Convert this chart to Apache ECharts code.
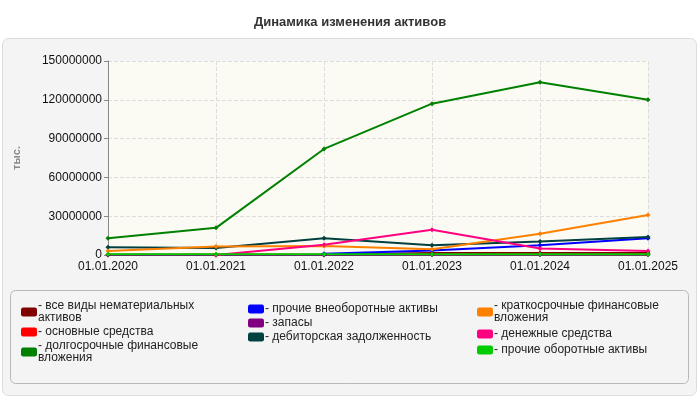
<!DOCTYPE html>
<html lang="ru">
<head>
<meta charset="UTF-8">
<title>Динамика изменения активов</title>
<style>
  * { margin: 0; padding: 0; }
  html, body { width: 100%; height: 100%; background: #fff; }
  #main { width: 700px; height: 400px; }
</style>
</head>
<body>
<div id="main"></div>
<script src="https://cdn.jsdelivr.net/npm/echarts@6/dist/echarts.min.js"></script>
<script>
var dates = ['01.01.2020', '01.01.2021', '01.01.2022', '01.01.2023', '01.01.2024', '01.01.2025'];

var intangible   = [200000, 200000, 300000, 1500000, 1500000, 1500000];
var fixedAssets  = [100000, 100000, 200000, 500000, 500000, 600000];
var longFin      = [13000000, 21000000, 82000000, 117000000, 133500000, 120000000];
var otherNonCur  = [null, null, 1000000, 3500000, 7500000, 13000000];
var stocks       = [0, 0, 0, 100000, 100000, 100000];
var receivables  = [6000000, 5500000, 13000000, 7500000, 10500000, 14000000];
var shortFin     = [3000000, 6500000, 7000000, 4500000, 16500000, 31000000];
var cash         = [null, 0, 8000000, 19500000, 5000000, 3000000];
var otherCur     = [500000, 500000, 500000, 500000, 500000, 500000];

var names = {
    intangible: 'все виды нематериальных\nактивов',
    fixedAssets: 'основные средства',
    longFin: 'долгосрочные финансовые\nвложения',
    otherNonCur: 'прочие внеоборотные активы',
    stocks: 'запасы',
    receivables: 'дебиторская задолженность',
    shortFin: 'краткосрочные финансовые\nвложения',
    cash: 'денежные средства',
    otherCur: 'прочие оборотные активы'
};

function line(name, data, color) {
    return {
        name: name, type: 'line', data: data, color: color,
        symbol: 'diamond', symbolSize: 5, connectNulls: false,
        lineStyle: { width: 2, color: color },
        itemStyle: { color: color }
    };
}

function legend(left, top, gap, data) {
    return {
        orient: 'vertical', left: left, top: top, itemGap: gap,
        itemWidth: 16, itemHeight: 9, icon: 'roundRect',
        formatter: function (n) { return '- ' + n; },
        textStyle: { fontSize: 12, color: '#222', fontFamily: 'Liberation Sans', lineHeight: 12, padding: [0, 0, 0, -4] },
        data: data, selectedMode: false
    };
}

var myChart = echarts.init(document.getElementById('main'));
var option = {
    animation: false,
    title: {
        text: 'Динамика изменения активов', left: 'center', top: 11,
        textStyle: { fontSize: 13, fontWeight: 'bold', color: '#333', fontFamily: 'Liberation Sans' }
    },
    graphic: [
        { type: 'rect', left: 2, top: 38, z: -10, shape: { width: 694, height: 357, r: 6 },
          style: { fill: '#f4f4f4', stroke: '#dcdcdc' } },
        { type: 'rect', left: 10, top: 290, z: -9, shape: { width: 678, height: 93, r: 5 },
          style: { fill: '#f4f4f4', stroke: '#b8b8b8' } }
    ],
    grid: { left: 108, right: 52, top: 61, bottom: 145, show: true, backgroundColor: '#fbfbf3', borderWidth: 0 },
    xAxis: {
        type: 'category', data: dates, boundaryGap: false,
        axisLine: { lineStyle: { color: '#888' } },
        axisTick: { show: false },
        axisLabel: { color: '#111', fontSize: 12, fontFamily: 'Liberation Sans', margin: 6 },
        splitLine: { show: true, lineStyle: { type: 'dashed', color: '#ddd' } }
    },
    yAxis: {
        type: 'value', min: 0, max: 150000000, interval: 30000000,
        name: 'тыс.', nameLocation: 'middle', nameGap: 86, nameRotate: 90,
        nameTextStyle: { color: '#888', fontSize: 11, fontWeight: 'bold' },
        axisLine: { show: true, lineStyle: { color: '#888' } },
        axisTick: { show: true, length: 4, lineStyle: { color: '#888' } },
        axisLabel: { color: '#111', fontSize: 12, fontFamily: 'Liberation Sans', margin: 6,
                     formatter: function (v) { return String(v); } },
        splitLine: { lineStyle: { type: 'dashed', color: '#ddd' } }
    },
    legend: [
        legend(16, 295, 2, [names.intangible, names.fixedAssets, names.longFin]),
        legend(243, 298, 2, [names.otherNonCur, names.stocks, names.receivables]),
        legend(472, 295, 4, [names.shortFin, names.cash, names.otherCur])
    ],
    series: [
        line(names.intangible, intangible, '#800000'),
        line(names.fixedAssets, fixedAssets, '#ff0000'),
        line(names.longFin, longFin, '#008000'),
        line(names.otherNonCur, otherNonCur, '#0000ff'),
        line(names.stocks, stocks, '#800080'),
        line(names.receivables, receivables, '#004040'),
        line(names.shortFin, shortFin, '#ff8000'),
        line(names.cash, cash, '#ff0080'),
        line(names.otherCur, otherCur, '#00cc00')
    ]
};
myChart.setOption(option);
</script>
</body>
</html>
